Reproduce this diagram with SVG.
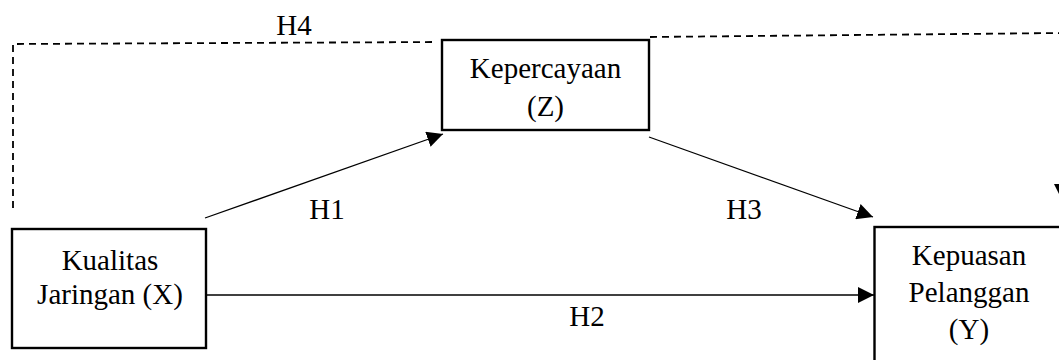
<svg xmlns="http://www.w3.org/2000/svg" width="1059" height="360" viewBox="0 0 1059 360">
<defs>
<style>
.box{fill:#fff;stroke:#000;stroke-width:2.4}
.t{font-family:"Liberation Serif","Times New Roman","DejaVu Serif",serif;font-size:29px;fill:#000;text-anchor:middle}
.arr{stroke:#000;stroke-width:1.3;fill:none}
.dash{stroke:#000;stroke-width:1.8;fill:none;stroke-dasharray:7 5}
</style>
<marker id="ah" markerUnits="userSpaceOnUse" markerWidth="16" markerHeight="16" refX="16" refY="8" orient="auto">
<path d="M0,0 L16,8 L0,16 Z" fill="#000"/>
</marker>
</defs>
<rect width="1059" height="360" fill="#fff"/>
<g id="connectors">
<path class="dash" d="M13,208 L13,44 L437,42"/>
<path class="dash" d="M650,37 L1062,33 L1062,200" marker-end="url(#ah)"/>
<line class="arr" x1="205" y1="218" x2="443" y2="134" marker-end="url(#ah)"/>
<line class="arr" x1="649" y1="137" x2="873" y2="217" marker-end="url(#ah)"/>
<line class="arr" x1="206" y1="295" x2="874" y2="295" marker-end="url(#ah)"/>
<text class="t" x="294" y="35">H4</text>
<text class="t" x="327" y="219">H1</text>
<text class="t" x="744" y="219">H3</text>
<text class="t" x="587" y="326">H2</text>
</g>
<g id="node-z">
<rect class="box" x="442" y="40" width="207" height="90"/>
<text class="t" x="545.5" y="78">Kepercayaan</text>
<text class="t" x="545.5" y="116">(Z)</text>
</g>
<g id="node-x">
<rect class="box" x="12" y="229" width="194" height="119"/>
<text class="t" x="110" y="270">Kualitas</text>
<text class="t" x="110" y="304">Jaringan (X)</text>
</g>
<g id="node-y">
<rect class="box" x="874.5" y="227" width="190" height="140"/>
<text class="t" x="969" y="265">Kepuasan</text>
<text class="t" x="969" y="302">Pelanggan</text>
<text class="t" x="969" y="339">(Y)</text>
</g>
</svg>
